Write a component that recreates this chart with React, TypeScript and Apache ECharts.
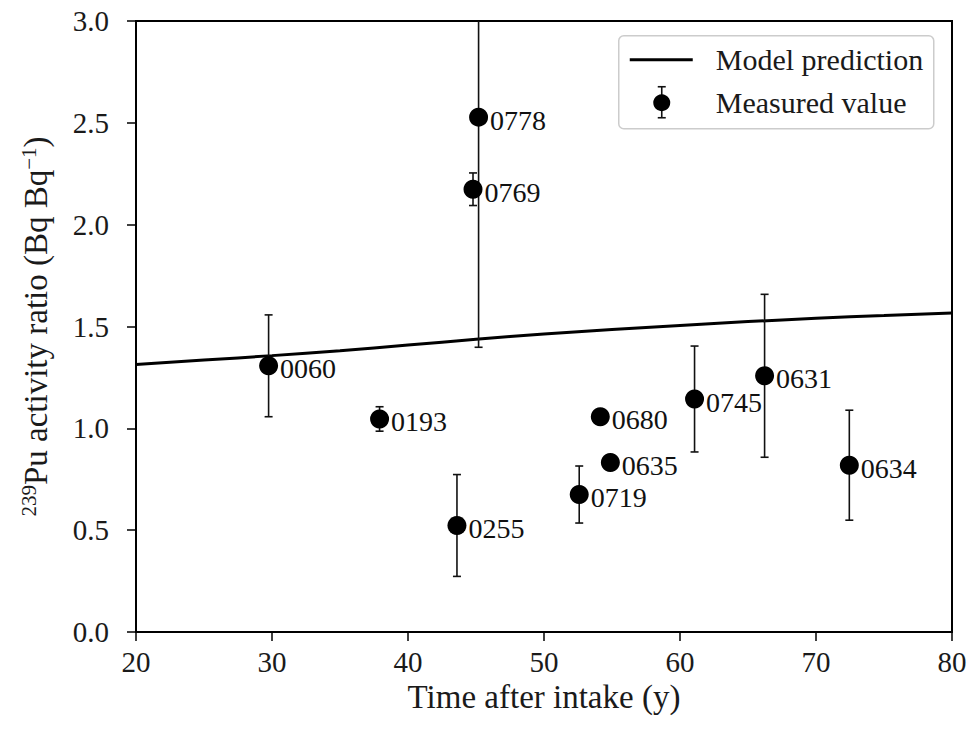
import React, { useEffect, useRef } from "react";
import * as echarts from "echarts";

// Measured samples
const sampleIds = ["0060", "0193", "0255", "0769", "0778", "0719", "0680", "0635", "0745", "0631", "0634"];
const sampleTime = [29.75, 37.91, 43.6, 44.78, 45.19, 52.59, 54.14, 54.88, 61.07, 66.22, 72.45];
const sampleRatio = [1.307, 1.046, 0.523, 2.174, 2.528, 0.675, 1.057, 0.832, 1.144, 1.258, 0.819];
const sampleErr = [0.25, 0.06, 0.25, 0.08, 1.13, 0.14, 0.02, 0.02, 0.26, 0.4, 0.27];

// Model prediction curve
const modelTime = [20, 25, 30, 35, 40, 45, 50, 55, 60, 65, 70, 75, 80];
const modelRatio = [1.313, 1.335, 1.357, 1.381, 1.409, 1.437, 1.463, 1.485, 1.505, 1.524, 1.54, 1.554, 1.566];

const xTicks = [20, 30, 40, 50, 60, 70, 80];
const yTicks = [0, 0.5, 1, 1.5, 2, 2.5, 3];

const FONT = "'Liberation Serif', 'Times New Roman', serif";

export default function App() {
  const ref = useRef<HTMLDivElement>(null);
  useEffect(() => {
    document.body.style.margin = "0";
    const chart = echarts.init(ref.current!, null, { renderer: "svg" });
    const scatterData = sampleIds.map((id, i) => [sampleTime[i], sampleRatio[i], id]);
    const errData = sampleIds.map((_, i) => [sampleTime[i], sampleRatio[i] - sampleErr[i], sampleRatio[i] + sampleErr[i]]);
    const lineData = modelTime.map((t, i) => [t, modelRatio[i]]);

    const axisCommon = {
      axisLine: { show: true, onZero: false, lineStyle: { color: "#000", width: 2 } },
      axisTick: { show: true, inside: false, length: 9, lineStyle: { color: "#000", width: 1.5 } },
      splitLine: { show: false },
      axisLabel: { color: "#1a1a1a", fontFamily: FONT, fontSize: 29 },
      nameTextStyle: { color: "#1a1a1a", fontFamily: FONT, fontSize: 33 },
    };

    chart.setOption({
      animation: false,
      backgroundColor: "#fff",
      grid: {
        left: 136,
        right: 27,
        top: 21,
        bottom: 100,
        show: true,
        borderColor: "#000",
        borderWidth: 2,
        backgroundColor: "transparent",
      },
      xAxis: {
        ...axisCommon,
        type: "value",
        min: 20,
        max: 80,
        interval: 10,
        name: "Time after intake (y)",
        nameLocation: "middle",
        nameGap: 37,
        axisLabel: { ...axisCommon.axisLabel, margin: 15, formatter: (v: number) => (xTicks.includes(v) ? String(v) : "") },
      },
      yAxis: {
        ...axisCommon,
        type: "value",
        min: 0,
        max: 3,
        interval: 0.5,
        name: "{sup|239}Pu activity ratio (Bq Bq{sup|−1})",
        nameLocation: "middle",
        nameGap: 82,
        nameTextStyle: {
          ...axisCommon.nameTextStyle,
          lineHeight: 36,
          rich: {
            sup: { fontSize: 21, fontFamily: FONT, color: "#1a1a1a", verticalAlign: "top", lineHeight: 22 },
          },
        },
        axisLabel: {
          ...axisCommon.axisLabel,
          margin: 27,
          formatter: (v: number) => (yTicks.some((t) => Math.abs(t - v) < 1e-9) ? v.toFixed(1) : ""),
        },
      },
      series: [
        {
          name: "Model prediction",
          type: "line",
          data: lineData,
          showSymbol: false,
          symbol: "none",
          smooth: true,
          lineStyle: { color: "#000", width: 3 },
          z: 3,
        },
        {
          name: "err",
          type: "custom",
          clip: true,
          data: errData,
          z: 4,
          renderItem: (params: any, api: any) => {
            const x = api.value(0);
            const lo = api.coord([x, api.value(1)]);
            const hi = api.coord([x, api.value(2)]);
            const cw = 4;
            const st = { stroke: "#111", lineWidth: 1.6 };
            return {
              type: "group",
              children: [
                { type: "line", shape: { x1: lo[0], y1: lo[1], x2: hi[0], y2: hi[1] }, style: st },
                { type: "line", shape: { x1: lo[0] - cw, y1: lo[1], x2: lo[0] + cw, y2: lo[1] }, style: st },
                { type: "line", shape: { x1: hi[0] - cw, y1: hi[1], x2: hi[0] + cw, y2: hi[1] }, style: st },
              ],
            };
          },
        },
        {
          name: "Measured value",
          type: "scatter",
          data: scatterData,
          symbol: "circle",
          symbolSize: 19,
          itemStyle: { color: "#000", opacity: 1 },
          z: 5,
          label: {
            show: true,
            position: "right",
            distance: 2,
            offset: [0, 3],
            color: "#111",
            fontFamily: FONT,
            fontSize: 28,
            formatter: (p: any) => p.value[2],
          },
        },
      ],
      graphic: [
        {
          type: "group",
          left: 618,
          top: 35,
          children: [
            { type: "rect", shape: { x: 0, y: 0, width: 315, height: 93, r: 5 }, style: { fill: "#fff", stroke: "#cccccc", lineWidth: 1.5 } },
            { type: "line", shape: { x1: 11, y1: 24, x2: 74, y2: 24 }, style: { stroke: "#000", lineWidth: 3 } },
            { type: "text", x: 97, y: 24, style: { text: "Model prediction", fontFamily: FONT, fontSize: 30, fill: "#1a1a1a", verticalAlign: "middle" } },
            { type: "line", shape: { x1: 43, y1: 51, x2: 43, y2: 82 }, style: { stroke: "#111", lineWidth: 1.6 } },
            { type: "line", shape: { x1: 39, y1: 51, x2: 47, y2: 51 }, style: { stroke: "#111", lineWidth: 1.6 } },
            { type: "line", shape: { x1: 39, y1: 82, x2: 47, y2: 82 }, style: { stroke: "#111", lineWidth: 1.6 } },
            { type: "circle", shape: { cx: 43, cy: 67, r: 8.5 }, style: { fill: "#000" } },
            { type: "text", x: 97, y: 67, style: { text: "Measured value", fontFamily: FONT, fontSize: 30, fill: "#1a1a1a", verticalAlign: "middle" } },
          ],
        },
      ],
    });
    return () => chart.dispose();
  }, []);
  return <div ref={ref} style={{ width: 979, height: 732 }} />;
}
